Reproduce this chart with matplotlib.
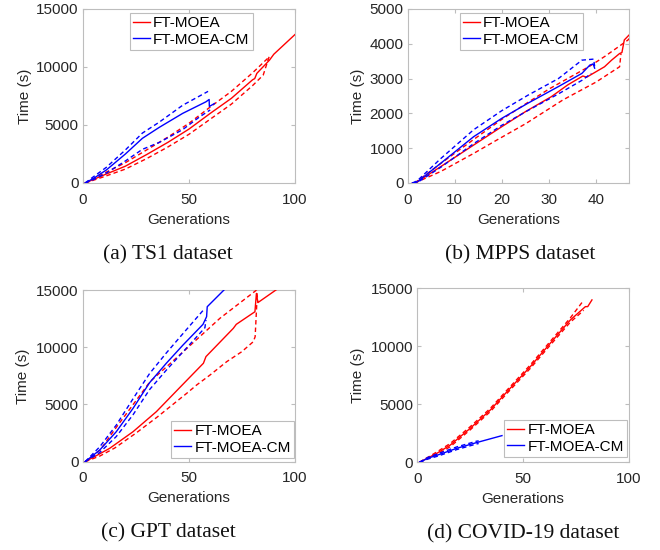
import matplotlib
matplotlib.use("Agg")
import matplotlib.pyplot as plt

plt.rcParams['font.family'] = ['Liberation Sans', 'DejaVu Sans']

# ---------------- data ----------------
# (a) TS1
a_red_mean_x = [1, 10, 20, 30, 40, 50, 60, 70, 80, 81, 82, 88, 90, 100]
a_red_mean_y = [0, 700, 1450, 2450, 3500, 4650, 6000, 7300, 8900, 9000, 9450, 10600, 11100, 12800]
a_red_up_x = [1, 10, 20, 30, 40, 50, 60, 70, 80, 88]
a_red_up_y = [0, 850, 1750, 2850, 3950, 5150, 6550, 7900, 9500, 10900]
a_red_lo_x = [1, 10, 20, 30, 40, 50, 60, 70, 80, 85, 88]
a_red_lo_y = [0, 550, 1200, 2100, 3100, 4200, 5500, 6800, 8400, 9300, 11000]
a_blue_mean_x = [1, 5, 11, 20, 28, 36, 47, 58, 59.5, 59.6, 62]
a_blue_mean_y = [0, 400, 1120, 2500, 3850, 4800, 6000, 7000, 7200, 6600, 6850]
a_blue_up_x = [1, 5, 11, 20, 28, 36, 47, 58, 59]
a_blue_up_y = [0, 550, 1350, 2850, 4300, 5250, 6700, 7800, 7900]
a_blue_lo_x = [1, 5, 11, 20, 28, 36, 47, 55, 60]
a_blue_lo_y = [0, 300, 850, 1900, 2900, 3500, 4600, 5700, 6300]

# (b) MPPS
b_red_mean_x = [1, 2, 7, 14, 20, 25, 30.5, 34, 37.2, 38, 41.8, 43.3, 45, 45.5, 46, 47]
b_red_mean_y = [0, 30, 470, 1090, 1620, 2050, 2480, 2820, 3075, 3040, 3340, 3530, 3720, 3750, 4110, 4250]
b_red_up_x = [1.5, 7, 14, 20, 25, 30, 35, 38.7, 42, 46.8, 47]
b_red_up_y = [0, 560, 1250, 1830, 2270, 2700, 3080, 3360, 3650, 4110, 4150]
b_red_lo_x = [1.5, 7, 14, 19, 25, 33, 40, 45, 45.3]
b_red_lo_y = [0, 330, 850, 1240, 1700, 2390, 2900, 3340, 3720]
b_blue_mean_x = [1, 2, 7, 14, 20, 25.5, 32, 37, 38.7, 39.4, 39.7]
b_blue_mean_y = [0, 30, 565, 1330, 1860, 2290, 2770, 3150, 3390, 3420, 3300]
b_blue_up_x = [1, 2, 7, 14, 20, 25.5, 32, 37, 39.5, 39.7]
b_blue_up_y = [0, 60, 700, 1530, 2080, 2520, 3000, 3530, 3560, 3350]
b_blue_lo_x = [1, 2, 7, 14, 20, 25.5, 32, 37, 39]
b_blue_lo_y = [0, 10, 450, 1130, 1660, 2080, 2560, 2950, 3150]

# (c) GPT
c_red_mean_x = [1, 8, 12.6, 23.6, 34.6, 45.6, 56.8, 58, 70.9, 72.3, 81.1, 81.8, 82.5, 91]
c_red_mean_y = [0, 700, 1170, 2620, 4370, 6470, 8600, 9180, 11650, 12000, 13100, 14700, 13900, 15000]
c_red_up_x = [1, 8, 15.7, 31.6, 47.3, 64.6, 81.9, 82.5]
c_red_up_y = [0, 1000, 3000, 6990, 9610, 12530, 15000, 13900]
c_red_lo_x = [1, 8, 15, 25, 35, 48.9, 53.6, 59.9, 67.8, 74.9, 80.3, 81.2, 82.0]
c_red_lo_y = [0, 500, 1200, 2500, 3900, 5970, 6700, 7570, 8740, 9610, 10480, 10920, 13900]
c_blue_mean_x = [1, 7.9, 15.7, 23.6, 31.4, 39.3, 47.2, 56.6, 58.3, 58.6, 66.5]
c_blue_mean_y = [0, 1020, 2620, 4660, 6900, 8600, 10200, 12000, 12670, 13540, 15000]
c_blue_up_x = [1, 7.9, 15.7, 23.6, 31.4, 39.3, 47.2, 56.8]
c_blue_up_y = [0, 1300, 3200, 5500, 7700, 9500, 11200, 13250]
c_blue_lo_x = [1, 7.9, 15.7, 23.6, 31.4, 39.3, 47.2, 57.5, 58]
c_blue_lo_y = [0, 800, 2200, 4100, 6300, 8000, 9600, 11700, 12380]

# (d) COVID-19
d_red_mean_x = [1, 9.3, 15.6, 25, 34.5, 42.4, 53.4, 62.8, 72.3, 79.4, 80.5, 82.5]
d_red_mean_y = [0, 780, 1490, 2930, 4510, 6090, 8250, 10260, 12270, 13420, 13420, 14000]
d_red_up_x = [1, 9.3, 15.6, 25, 34.5, 42.4, 53.4, 62.8, 72.3, 78.6]
d_red_up_y = [0, 900, 1630, 3070, 4650, 6230, 8400, 10420, 12450, 13970]
d_red_lo_x = [1, 9.3, 15.6, 25, 34.5, 42.4, 53.4, 62.8, 72.3, 78.6]
d_red_lo_y = [0, 660, 1350, 2800, 4370, 5950, 8100, 10100, 12080, 13100]
d_blue_mean_x = [1, 5, 10, 18.7, 28, 40]
d_blue_mean_y = [0, 350, 650, 1210, 1700, 2300]
d_blue_up_x = [1, 5, 10, 18.7, 28, 29]
d_blue_up_y = [0, 420, 760, 1330, 1820, 1850]
d_blue_lo_x = [1, 5, 10, 18.7, 28, 29]
d_blue_lo_y = [0, 280, 550, 1100, 1580, 1620]

labels = ["FT-MOEA", "FT-MOEA-CM"]
captions = ["(a) TS1 dataset", "(b) MPPS dataset", "(c) GPT dataset", "(d) COVID-19 dataset"]

# ---------------- layout ----------------
W, H = 660, 550
fig = plt.figure(figsize=(W / 100, H / 100), dpi=100)

def px_axes(l, t, r, b):
    return fig.add_axes([l / W, 1 - b / H, (r - l) / W, (b - t) / H])

GRAY = '#bdbdbd'
dash = (0, (3.2, 2.2))

panels = [
    dict(box=(83, 9, 295, 183), xlim=(0, 100), xt=[0, 50, 100], ylim=(0, 15000), yt=[0, 5000, 10000, 15000],
         data=(a_red_mean_x, a_red_mean_y, a_red_up_x, a_red_up_y, a_red_lo_x, a_red_lo_y,
               a_blue_mean_x, a_blue_mean_y, a_blue_up_x, a_blue_up_y, a_blue_lo_x, a_blue_lo_y),
         leg=('upper left', (130, 13)), ylab=-0.241, cap=(168, 255)),
    dict(box=(407.7, 9, 629, 183), xlim=(0, 47), xt=[0, 10, 20, 30, 40], ylim=(0, 5000),
         yt=[0, 1000, 2000, 3000, 4000, 5000],
         data=(b_red_mean_x, b_red_mean_y, b_red_up_x, b_red_up_y, b_red_lo_x, b_red_lo_y,
               b_blue_mean_x, b_blue_mean_y, b_blue_up_x, b_blue_up_y, b_blue_lo_x, b_blue_lo_y),
         leg=('upper left', (460, 13)), ylab=-0.193, cap=(520, 255)),
    dict(box=(83, 290, 295, 461.7), xlim=(0, 100), xt=[0, 50, 100], ylim=(0, 15000), yt=[0, 5000, 10000, 15000],
         data=(c_red_mean_x, c_red_mean_y, c_red_up_x, c_red_up_y, c_red_lo_x, c_red_lo_y,
               c_blue_mean_x, c_blue_mean_y, c_blue_up_x, c_blue_up_y, c_blue_lo_x, c_blue_lo_y),
         leg=('lower right', (294, 458)), ylab=-0.25, cap=(168, 533)),
    dict(box=(417.3, 288.3, 629, 462.3), xlim=(0, 100), xt=[0, 50, 100], ylim=(0, 15000), yt=[0, 5000, 10000, 15000],
         data=(d_red_mean_x, d_red_mean_y, d_red_up_x, d_red_up_y, d_red_lo_x, d_red_lo_y,
               d_blue_mean_x, d_blue_mean_y, d_blue_up_x, d_blue_up_y, d_blue_lo_x, d_blue_lo_y),
         leg=('lower right', (627, 457)), ylab=-0.247, cap=(523, 534)),
]

for i, p in enumerate(panels):
    ax = px_axes(*p['box'])
    (rmx, rmy, rux, ruy, rlx, rly, bmx, bmy, bux, buy, blx, bly) = p['data']
    lr, = ax.plot(rmx, rmy, color='#ff0000', lw=1.0, label=labels[0], zorder=3)
    ax.plot(rux, ruy, color='#ff0000', lw=1.0, ls=dash, zorder=3)
    ax.plot(rlx, rly, color='#ff0000', lw=1.0, ls=dash, zorder=3)
    lb, = ax.plot(bmx, bmy, color='#0000ff', lw=1.0, label=labels[1], zorder=3)
    ax.plot(bux, buy, color='#0000ff', lw=1.0, ls=dash, zorder=3)
    ax.plot(blx, bly, color='#0000ff', lw=1.0, ls=dash, zorder=3)

    ax.set_xlim(*p['xlim'])
    ax.set_ylim(*p['ylim'])
    ax.set_xticks(p['xt'])
    ax.set_yticks(p['yt'])
    ax.tick_params(direction='in', length=3, width=0.8, color=GRAY, labelsize=11,
                   labelcolor='#262626', top=True, right=True)
    ax.tick_params(axis='x', pad=7)
    ax.tick_params(axis='y', pad=3)
    for s in ax.spines.values():
        s.set_color(GRAY)
        s.set_linewidth(0.8)
    ax.set_xlabel('Generations', fontsize=11, color='#262626')
    ax.set_ylabel('Time (s)', fontsize=11, color='#262626')
    ax.xaxis.set_label_coords(0.5, -0.17)
    ax.yaxis.set_label_coords(p['ylab'], 0.5)

    loc, (lx, ly) = p['leg']
    leg = ax.legend(handles=[lr, lb], loc=loc, bbox_to_anchor=(lx / W, 1 - ly / H),
                    bbox_transform=fig.transFigure, borderaxespad=0, fontsize=11,
                    handlelength=1.1, handletextpad=0.2, borderpad=0.22, labelspacing=0.15,
                    fancybox=False, framealpha=1, edgecolor=GRAY)
    leg.get_frame().set_linewidth(0.8)

    cx, cy = p['cap']
    fig.text(cx / W, 1 - cy / H, captions[i], ha='center', va='center',
             fontsize=15.5, family=['Liberation Serif', 'DejaVu Serif'], color='#111111')

fig.savefig('out.png', dpi=100)
